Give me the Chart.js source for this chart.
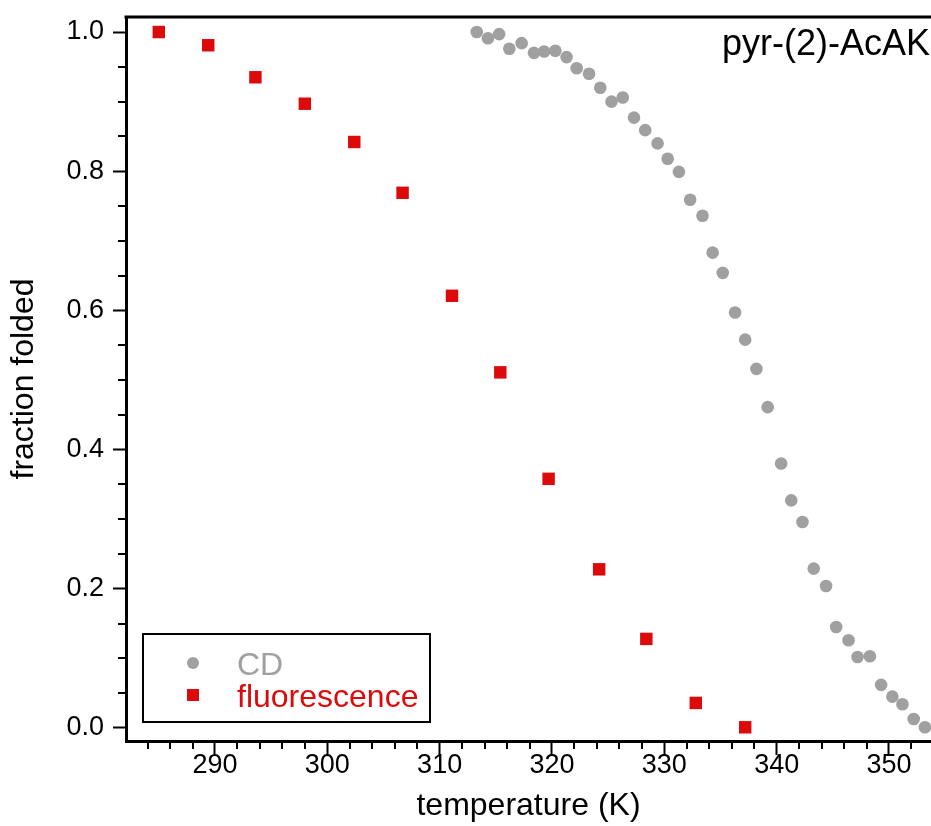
<!DOCTYPE html>
<html>
<head>
<meta charset="utf-8">
<script src="https://cdn.jsdelivr.net/npm/chart.js@4.4.1/dist/chart.umd.min.js"></script>
<style>
    body { margin: 0; background: #fff; }
    canvas { display: block; }
</style>
</head>
<body>
<canvas id="myChart" width="931" height="826"></canvas>
<script>
// CD melting curve (gray circles)
const cdTemp = [313.3, 314.3, 315.3, 316.2, 317.3, 318.4, 319.3, 320.3, 321.3, 322.2,
    323.3, 324.3, 325.3, 326.3, 327.3, 328.3, 329.4, 330.3, 331.3, 332.3,
    333.4, 334.3, 335.2, 336.3, 337.2, 338.2, 339.2, 340.4, 341.3, 342.3,
    343.3, 344.4, 345.3, 346.4, 347.2, 348.3, 349.3, 350.3, 351.2, 352.2, 353.2];
const cdFolded = [1.0, 0.991, 0.997, 0.976, 0.984, 0.970, 0.972, 0.973, 0.964, 0.948,
    0.940, 0.920, 0.900, 0.906, 0.877, 0.859, 0.840, 0.818, 0.799, 0.759,
    0.736, 0.683, 0.654, 0.597, 0.558, 0.516, 0.461, 0.380, 0.327, 0.296,
    0.229, 0.204, 0.145, 0.126, 0.102, 0.103, 0.062, 0.045, 0.034, 0.013, 0.001];

// fluorescence (red squares)
const fluorTemp = [285.0, 289.4, 293.6, 298.0, 302.4, 306.7, 311.1, 315.4, 319.7, 324.2, 328.4, 332.8, 337.2];
const fluorFolded = [1.0, 0.981, 0.935, 0.897, 0.842, 0.769, 0.621, 0.511, 0.358, 0.228, 0.128, 0.036, 0.001];

const xTicks = [290, 300, 310, 320, 330, 340, 350];
const yTicks = [0, 0.2, 0.4, 0.6, 0.8, 1.0];
const xMinorStep = 2;
const yMinorStep = 0.05;

const grayColor = "#a0a0a0";
const redColor = "#dc0a0a";

Chart.defaults.font.family = '"Liberation Sans", Arial, sans-serif';
Chart.defaults.color = "#000";

// minor ticks, top frame line, label and legend box
const decorations = {
    id: "decorations",
    afterDraw(chart) {
        const ctx = chart.ctx;
        const area = chart.chartArea;
        const xs = chart.scales.x;
        const ys = chart.scales.y;

        ctx.save();
        ctx.strokeStyle = "#000";
        ctx.lineWidth = 2;

        for (let v = Math.ceil(xs.min / xMinorStep) * xMinorStep; v <= xs.max; v += xMinorStep) {
            if (v % 10 === 0) continue;
            const px = Math.round(xs.getPixelForValue(v));
            ctx.beginPath();
            ctx.moveTo(px, area.bottom);
            ctx.lineTo(px, area.bottom + 8);
            ctx.stroke();
        }

        for (let i = Math.ceil(ys.min / yMinorStep); i * yMinorStep <= ys.max; i++) {
            if (i % 4 === 0) continue;
            const py = Math.round(ys.getPixelForValue(i * yMinorStep));
            ctx.beginPath();
            ctx.moveTo(area.left, py);
            ctx.lineTo(area.left - 8, py);
            ctx.stroke();
        }

        // top frame
        ctx.lineWidth = 3;
        ctx.beginPath();
        ctx.moveTo(area.left - 1.5, area.top);
        ctx.lineTo(area.right, area.top);
        ctx.stroke();

        // sample label
        ctx.fillStyle = "#000";
        ctx.font = '36px "Liberation Sans", Arial, sans-serif';
        ctx.textAlign = "right";
        ctx.textBaseline = "alphabetic";
        ctx.fillText("pyr-(2)-AcAK", area.right - 1, area.top + 38);

        // legend
        const lx = area.left + 17;
        const ly = area.bottom - 107;
        ctx.lineWidth = 2;
        ctx.strokeRect(lx, ly, 287, 88);

        ctx.font = '32px "Liberation Sans", Arial, sans-serif';
        ctx.textAlign = "left";

        ctx.fillStyle = grayColor;
        ctx.beginPath();
        ctx.arc(lx + 50, ly + 29, 6, 0, Math.PI * 2);
        ctx.fill();
        ctx.fillText("CD", lx + 94, ly + 41);

        ctx.fillStyle = redColor;
        ctx.fillRect(lx + 44, ly + 55, 12, 12);
        ctx.fillText("fluorescence", lx + 94, ly + 73);

        ctx.restore();
    },
};

const ctx = document.querySelector("#myChart");

new Chart(ctx, {
    type: "scatter",
    data: {
        datasets: [
            {
                label: "CD",
                data: cdTemp.map((t, i) => ({ x: t, y: cdFolded[i] })),
                pointStyle: "circle",
                pointRadius: 6.3,
                pointBorderWidth: 0,
                backgroundColor: grayColor,
                borderColor: grayColor,
                clip: false,
            },
            {
                label: "fluorescence",
                data: fluorTemp.map((t, i) => ({ x: t, y: fluorFolded[i] })),
                pointStyle: "rect",
                pointRadius: 8.8,
                pointBorderWidth: 0,
                backgroundColor: redColor,
                borderColor: redColor,
                clip: false,
            },
        ],
    },
    options: {
        responsive: false,
        animation: false,
        devicePixelRatio: 1,
        layout: {
            autoPadding: false,
            padding: { top: 17, right: 0, bottom: 0, left: 0 },
        },
        plugins: {
            legend: { display: false },
            tooltip: { enabled: false },
        },
        scales: {
            x: {
                type: "linear",
                min: 282.08,
                max: 353.74,
                afterBuildTicks: (scale) => {
                    scale.ticks = xTicks.map((v) => ({ value: v }));
                },
                afterFit: (scale) => {
                    scale.height = 85;
                    scale.paddingLeft = 0;
                    scale.paddingRight = 0;
                },
                ticks: {
                    autoSkip: false,
                    maxRotation: 0,
                    padding: -3,
                    font: { size: 27, lineHeight: 1 },
                    callback: (v) => String(v),
                },
                grid: {
                    drawOnChartArea: false,
                    tickLength: 14,
                    tickWidth: 2,
                    tickColor: "#000",
                },
                border: { color: "#000", width: 3 },
                title: {
                    display: true,
                    text: "temperature (K)",
                    font: { size: 32 },
                    padding: { top: 0, bottom: 1 },
                },
            },
            y: {
                type: "linear",
                min: -0.0187,
                max: 1.0216,
                afterBuildTicks: (scale) => {
                    scale.ticks = yTicks.map((v) => ({ value: v }));
                },
                afterFit: (scale) => {
                    scale.width = 126;
                    scale.paddingTop = 0;
                    scale.paddingBottom = 0;
                },
                ticks: {
                    autoSkip: false,
                    padding: 9,
                    font: { size: 27, lineHeight: 1 },
                    callback: (v) => v.toFixed(1),
                },
                grid: {
                    drawOnChartArea: false,
                    tickLength: 13,
                    tickWidth: 2,
                    tickColor: "#000",
                },
                border: { color: "#000", width: 3 },
                title: {
                    display: true,
                    text: "fraction folded",
                    font: { size: 32 },
                    padding: { top: 5, bottom: 0 },
                },
            },
        },
    },
    plugins: [decorations],
});
</script>
</body>
</html>
